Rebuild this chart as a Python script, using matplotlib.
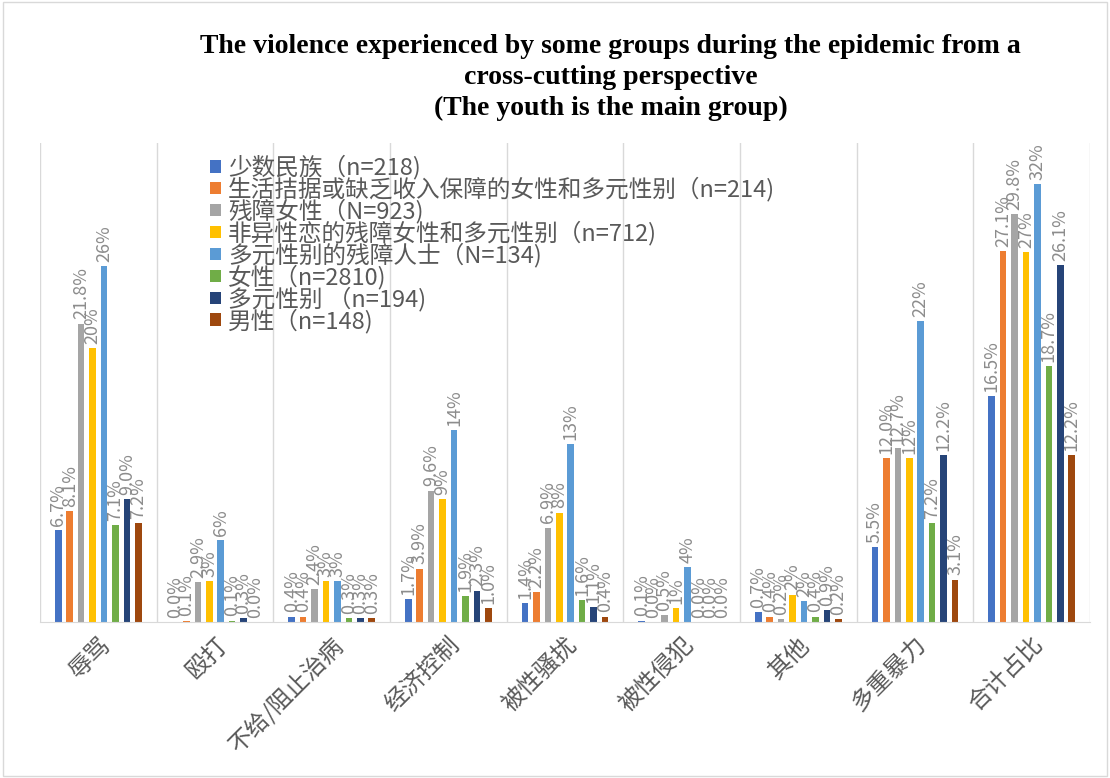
import matplotlib
matplotlib.use("Agg")
import matplotlib.pyplot as plt
import numpy as np
from matplotlib.patches import Rectangle

plt.rcParams['font.family'] = ['Noto Sans CJK SC', 'DejaVu Sans']

categories = ["辱骂", "殴打", "不给/阻止治病", "经济控制", "被性骚扰", "被性侵犯", "其他", "多重暴力", "合计占比"]
groups = ["少数民族（n=218)", "生活拮据或缺乏收入保障的女性和多元性别（n=214)", "残障女性（N=923)",
          "非异性恋的残障女性和多元性别（n=712)", "多元性别的残障人士（N=134)", "女性（n=2810)",
          "多元性别 （n=194)", "男性（n=148)"]
minority = [6.7, 0.0, 0.4, 1.7, 1.4, 0.1, 0.7, 5.5, 16.5]
low_income = [8.1, 0.1, 0.4, 3.9, 2.2, 0.0, 0.4, 12.0, 27.1]
disabled_women = [21.8, 2.9, 2.4, 9.6, 6.9, 0.5, 0.2, 12.7, 29.8]
nonhetero_disabled = [20, 3, 3, 9, 8, 1, 2, 12, 27]
lgbt_disabled = [26, 6, 3, 14, 13, 4, 1.5, 22, 32]
women = [7.1, 0.1, 0.3, 1.9, 1.6, 0.0, 0.4, 7.2, 18.7]
lgbt = [9.0, 0.3, 0.3, 2.3, 1.1, 0.0, 0.9, 12.2, 26.1]
men = [7.2, 0.0, 0.3, 1.0, 0.4, 0.0, 0.2, 3.1, 12.2]
decimals = [1, 1, 1, 0, 0, 1, 1, 1]
series = [minority, low_income, disabled_women, nonhetero_disabled, lgbt_disabled, women, lgbt, men]
colors = ["#4472C4", "#ED7D31", "#A5A5A5", "#FFC000", "#5B9BD5", "#70AD47", "#264478", "#9E480E"]

fig = plt.figure(figsize=(11.1, 7.78), dpi=100)
ax = fig.add_axes([40 / 1110, 1 - 622 / 778, 1050 / 1110, 479 / 778])
fig.patches.append(Rectangle((0.003, 0.003), 0.994, 0.994, transform=fig.transFigure,
                             fill=False, edgecolor="#d9d9d9", linewidth=1))

x = np.arange(len(categories))
stride = 0.098
width = 0.056
for i, (vals, c) in enumerate(zip(series, colors)):
    pos = x + (i - 3.5) * stride
    bars = ax.bar(pos, vals, width, color=c, label=groups[i])
    fmt = "{:.%df}%%" % decimals[i]
    for b, v in zip(bars, vals):
        ax.annotate(fmt.format(v), (b.get_x() + b.get_width() / 2, v), xytext=(0, 3),
                    textcoords="offset points", rotation=90, ha="center", va="bottom",
                    fontsize=13, color="#8c8c8c")

ax.set_xlim(-0.5, len(categories) - 0.5)
ax.set_ylim(0, 35)
ax.set_yticks([])
ax.set_xticks(x)
ax.set_xticklabels(categories, rotation=45, ha="right", rotation_mode="anchor",
                   fontsize=17, color="#595959")
ax.tick_params(axis="x", length=0, pad=8)
ax.set_xticks(np.arange(-0.5, len(categories), 1), minor=True)
ax.tick_params(axis="x", which="minor", length=0)
ax.grid(axis="x", which="minor", color="#d9d9d9", linewidth=1)
for s in ["top", "left", "right"]:
    ax.spines[s].set_visible(False)
ax.spines["bottom"].set_color("#d9d9d9")

leg = ax.legend(loc="upper left", bbox_to_anchor=(0.151, 1.0), frameon=False, fontsize=17,
                handlelength=0.45, handleheight=0.45, handletextpad=0.3, labelspacing=-0.12,
                borderpad=0, labelcolor="#595959")

fig.text(0.55, 0.956, "The violence experienced by some groups during the epidemic from a\n"
         "cross-cutting perspective\n(The youth is the main group)",
         ha="center", va="top", fontsize=20, fontweight="bold", family="Liberation Serif",
         linespacing=1.3)

fig.savefig("out.png", dpi=100)
